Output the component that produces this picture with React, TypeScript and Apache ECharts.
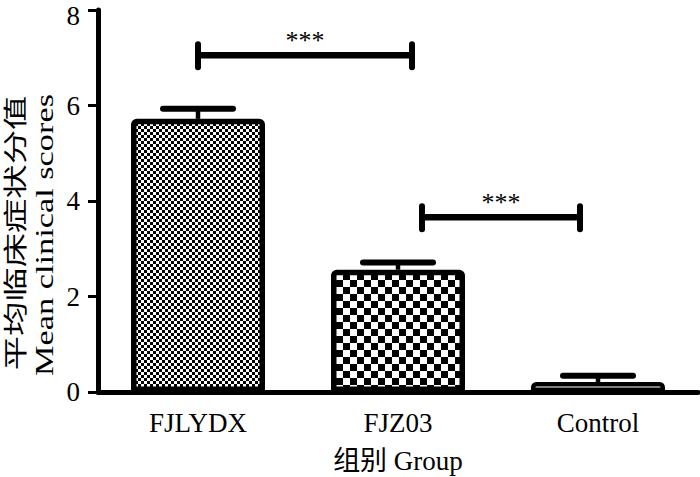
import React, { useEffect, useRef } from "react";
import * as echarts from "echarts";

const categories = ["FJLYDX", "FJZ03", "Control"];
const means = [5.72, 2.56, 0.21];
const errors = [0.21, 0.15, 0.13];
const yTicks = { min: 0, max: 8, interval: 2 };
// significance brackets: start / end in category-index units, height in data units
const bracketFrom = [0, 1.12];
const bracketTo = [1.07, 1.91];
const bracketLevel = [7.05, 3.66];
const bracketLabels = ["***", "***"];
const yTitleCn = "平均临床症状分值";
const yTitleEn = "Mean clinical scores";
const xTitle = "组别 Group";

const FONT = '"Liberation Serif", "Noto Sans CJK SC", serif';

function makeChecker(cell: number): HTMLCanvasElement {
  const c = document.createElement("canvas");
  c.width = cell * 2;
  c.height = cell * 2;
  const ctx = c.getContext("2d")!;
  ctx.fillStyle = "#fff";
  ctx.fillRect(0, 0, cell * 2, cell * 2);
  ctx.fillStyle = "#000";
  ctx.fillRect(0, 0, cell, cell);
  ctx.fillRect(cell, cell, cell, cell);
  return c;
}

export default function App() {
  const ref = useRef<HTMLDivElement>(null);
  useEffect(() => {
    if (!ref.current) return;
    const chart = echarts.init(ref.current, null, { renderer: "svg" });
    const fills: any[] = [
      { image: makeChecker(3), repeat: "repeat" },
      { image: makeChecker(7), repeat: "repeat" },
      "#ffffff",
    ];
    const borders = [5.5, 5.5, 4.5];
    const barData = means.map((v, i) => ({
      value: v,
      itemStyle: { color: fills[i], borderWidth: borders[i] },
    }));
    const errData = means.map((v, i) => [i, v, errors[i]]);
    const brData = bracketFrom.map((f, i) => [f, bracketTo[i], bracketLevel[i]]);

    chart.setOption({
      animation: false,
      grid: { left: 98, right: 2, top: 10, bottom: 85, containLabel: false, outerBoundsMode: "none" },
      xAxis: {
        type: "category",
        data: categories,
        name: xTitle,
        nameLocation: "middle",
        nameGap: 55,
        nameTextStyle: { fontFamily: FONT, fontSize: 27, color: "#000" },
        axisLine: { lineStyle: { color: "#000", width: 5 } },
        axisTick: { alignWithLabel: true, length: 9, lineStyle: { color: "#000", width: 4 } },
        axisLabel: { fontFamily: FONT, fontSize: 27, color: "#000", margin: 17 },
      },
      yAxis: {
        type: "value",
        min: yTicks.min,
        max: yTicks.max,
        interval: yTicks.interval,
        axisLine: { show: true, lineStyle: { color: "#000", width: 5 } },
        axisTick: { show: true, length: 10, lineStyle: { color: "#000", width: 3 } },
        splitLine: { show: false },
        axisLabel: {
          fontFamily: FONT,
          fontSize: 27,
          color: "#000",
          margin: 18,
          formatter: (v: number) => (v === yTicks.max ? `{edge|${v}}` : `${v}`),
          rich: {
            edge: { fontFamily: FONT, fontSize: 27, color: "#000", padding: [11, 0, 0, 0] },
          },
        },
      },
      graphic: [
        {
          type: "text",
          x: 16,
          y: 233,
          rotation: Math.PI / 2,
          scaleX: 1.43,
          style: {
            text: yTitleCn,
            fontFamily: FONT,
            fontSize: 24,
            fill: "#000",
            textAlign: "center",
            textVerticalAlign: "middle",
          },
        },
        {
          type: "text",
          x: 44,
          y: 235,
          rotation: Math.PI / 2,
          scaleX: 1.32,
          style: {
            text: yTitleEn,
            fontFamily: FONT,
            fontSize: 26,
            fill: "#000",
            textAlign: "center",
            textVerticalAlign: "middle",
          },
        },
      ],
      series: [
        {
          type: "bar",
          data: barData,
          barWidth: 134,
          itemStyle: { borderColor: "#000", borderRadius: [3, 3, 0, 0] },
          z: 2,
        },
        {
          type: "custom",
          data: errData,
          encode: { x: 0, y: 1 },
          z: 3,
          renderItem: (params: any, api: any) => {
            const base = api.coord([api.value(0), api.value(1)]);
            const top = api.coord([api.value(0), api.value(1) + api.value(2)]);
            const bw = api.size([1, 0])[0];
            const half = bw * 0.175;
            return {
              type: "group",
              children: [
                {
                  type: "line",
                  shape: { x1: base[0], y1: base[1], x2: top[0], y2: top[1] },
                  style: { stroke: "#000", lineWidth: 4.5 },
                },
                {
                  type: "line",
                  shape: { x1: top[0] - half, y1: top[1], x2: top[0] + half, y2: top[1] },
                  style: { stroke: "#000", lineWidth: 6, lineCap: "round" },
                },
              ],
            };
          },
        },
        {
          type: "custom",
          data: brData,
          encode: { x: 0, y: 2 },
          z: 4,
          renderItem: (params: any, api: any) => {
            const i = params.dataIndex;
            const origin = api.coord([0, api.value(2)]);
            const bw = api.size([1, 0])[0];
            const x1 = origin[0] + api.value(0) * bw;
            const x2 = origin[0] + api.value(1) * bw;
            const y = origin[1];
            return {
              type: "group",
              children: [
                {
                  type: "line",
                  shape: { x1, y1: y, x2, y2: y },
                  style: { stroke: "#000", lineWidth: 6.5 },
                },
                {
                  type: "line",
                  shape: { x1, y1: y - 11, x2: x1, y2: y + 12 },
                  style: { stroke: "#000", lineWidth: 6, lineCap: "round" },
                },
                {
                  type: "line",
                  shape: { x1: x2, y1: y - 11, x2: x2, y2: y + 12 },
                  style: { stroke: "#000", lineWidth: 6, lineCap: "round" },
                },
                {
                  type: "text",
                  x: (x1 + x2) / 2,
                  y: y - 2,
                  style: {
                    text: bracketLabels[i],
                    fontFamily: FONT,
                    fontSize: 26,
                    fill: "#000",
                    textAlign: "center",
                    textVerticalAlign: "bottom",
                  },
                },
              ],
            };
          },
        },
      ],
    });
    return () => chart.dispose();
  }, []);
  return <div ref={ref} style={{ width: 700, height: 477, position: "absolute", left: 0, top: 0 }} />;
}
